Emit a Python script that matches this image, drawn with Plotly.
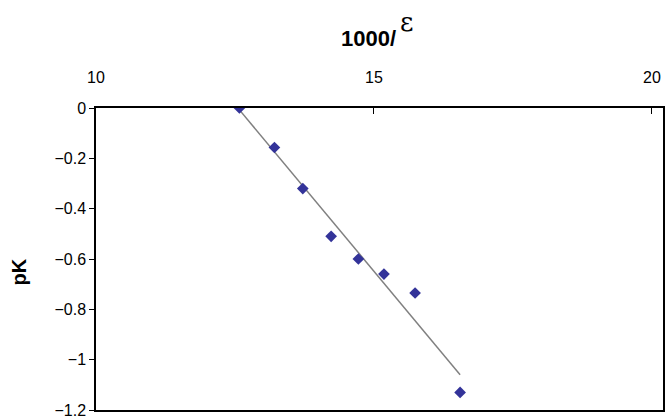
import numpy as np
import plotly.graph_objects as go

# data
inv_eps = [12.58, 13.21, 13.72, 14.23, 14.72, 15.18, 15.74, 16.55]
pK = [0.0, -0.157, -0.32, -0.51, -0.60, -0.66, -0.735, -1.13]

x_ticks = [10, 15, 20]
y_ticks = [0, -0.2, -0.4, -0.6, -0.8, -1, -1.2]
y_tick_text = ["0", "\u22120.2", "\u22120.4", "\u22120.6", "\u22120.8", "\u22121", "\u22121.2"]

# linear trend line over the data range
slope, icept = np.polyfit(inv_eps, pK, 1)
fit_x = [min(inv_eps), max(inv_eps)]
fit_y = [slope * v + icept for v in fit_x]

fig = go.Figure()
fig.add_trace(go.Scatter(x=fit_x, y=fit_y, mode="lines",
                         line=dict(color="#808080", width=1.5),
                         hoverinfo="skip"))
fig.add_trace(go.Scatter(x=inv_eps, y=pK, mode="markers",
                         marker=dict(symbol="diamond", size=9, color="#333399")))

font = "Liberation Sans, Arial, sans-serif"

fig.update_layout(
    width=668, height=420,
    margin=dict(l=96, r=5, t=108, b=10),
    plot_bgcolor="white", paper_bgcolor="white",
    showlegend=False,
    font=dict(family=font, size=16, color="black"),
)

fig.update_xaxes(
    side="top", range=[10, 20.2], tickvals=x_ticks,
    ticks="inside", ticklen=6, tickwidth=1, tickcolor="black",
    showline=True, linecolor="black", linewidth=1.5, mirror=True,
    showgrid=False, zeroline=False, ticklabelstandoff=17, automargin=False,
    ticklabeloverflow="allow",
)
fig.update_yaxes(
    range=[-1.2, 0], tickvals=y_ticks, ticktext=y_tick_text,
    ticks="outside", ticklen=5, tickwidth=1, tickcolor="black",
    showline=True, linecolor="black", linewidth=1.5, mirror=True,
    showgrid=False, zeroline=False, automargin=False,
    ticklabeloverflow="allow",
)

# titles
fig.add_annotation(x=0.481, y=1, xref="paper", yref="paper", yshift=70,
                   text="<b>1000/</b>", showarrow=False,
                   font=dict(size=22), xanchor="center", yanchor="middle")
fig.add_annotation(x=0.481, y=1, xref="paper", yref="paper", yshift=86, xshift=38,
                   text="\u03b5", showarrow=False,
                   font=dict(size=26, family="DejaVu Serif, serif"),
                   xanchor="center", yanchor="middle")
fig.add_annotation(x=0, y=0.455, xref="paper", yref="paper", xshift=-77,
                   text="<b>pK</b>", textangle=-90, showarrow=False,
                   font=dict(size=20), xanchor="center")

# drop the page's default body margin so the figure sits at (0, 0)
fig.write_html("out.html", config={"displayModeBar": False},
               post_script="document.body.style.margin='0';")
